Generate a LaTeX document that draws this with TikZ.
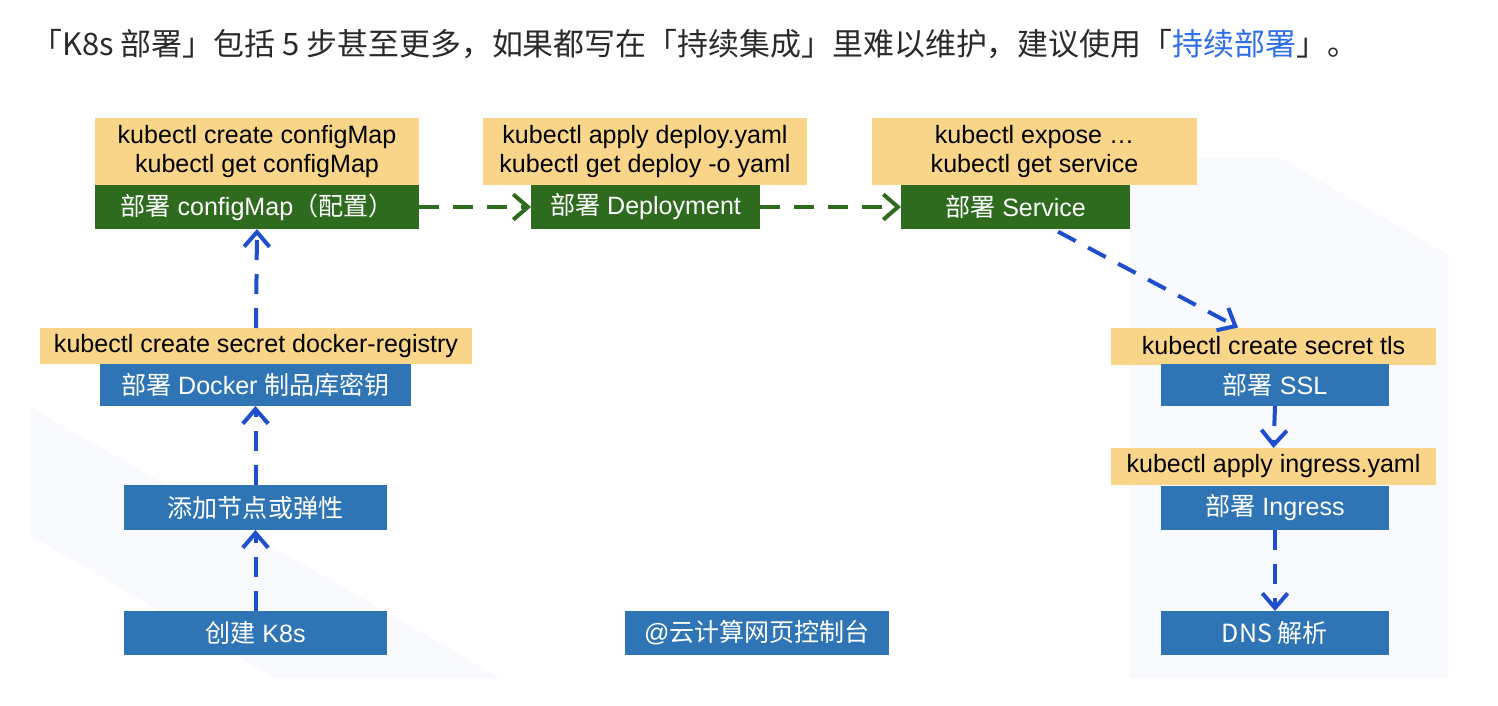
\documentclass[tikz,border=0pt]{standalone}
\usepackage{fontspec}
\setmainfont{Liberation Sans}
\newfontfamily\cjk{Noto Sans CJK SC}
\usetikzlibrary{arrows.meta}
\definecolor{ylw}{HTML}{F8D588}
\definecolor{grn}{HTML}{2E6B1E}
\definecolor{blu}{HTML}{2F75B5}
\definecolor{arrb}{HTML}{1F4FCF}
\definecolor{ttl}{HTML}{2A2A2A}
\definecolor{lnk}{HTML}{2F6FE8}
\definecolor{bgf}{HTML}{F8FAFE}
\begin{document}
\begin{tikzpicture}[x=0.75pt,y=-0.75pt,
  bw/.style={minimum width=#1*0.75pt},
  bh/.style={minimum height=#1*0.75pt},
  base/.style={rectangle,inner sep=0pt,outer sep=0pt,align=center,font=\fontsize{18.8}{21.75}\selectfont},
  ybox/.style={base,fill=ylw,text=black},
  gbox/.style={base,fill=grn,text=white},
  bbox/.style={base,fill=blu,text=white},
  conn/.style={line width=3pt,dash pattern=on 15pt off 10.5pt,
     -{Straight Barb[length=11pt,width=19pt,line width=3pt]}},
  gconn/.style={conn,draw=grn},
  bconn/.style={conn,draw=arrb}]
\useasboundingbox (0,0) rectangle (1498,706);
\fill[white] (0,0) rectangle (1498,706);
% faint background shapes
\fill[bgf] (30,407) -- (500,678) -- (275,678) -- (30,535) -- cycle;
\fill[bgf] (1130,158) -- (1280,158) -- (1448,255) -- (1448,678) -- (1130,678) -- cycle;
% title
\node[anchor=base west,inner sep=0pt,text=ttl,font=\cjk\fontsize{23.2}{27}\selectfont] (title) at (31,56)
  {「K8s 部署」包括 5 步甚至更多，如果都写在「持续集成」里难以维护，建议使用「\textcolor{lnk}{持续部署}」。};
% top row
\node[ybox,bw=324,bh=67] (y1) at (257,151.5) {kubectl create configMap\\kubectl get configMap};
\node[gbox,bw=324,bh=44] (g1) at (257,207) {{\cjk 部署} configMap{\cjk （配置）}};
\node[ybox,bw=324,bh=67] (y2) at (645,151.5) {kubectl apply deploy.yaml\\kubectl get deploy -o yaml};
\node[gbox,bw=229,bh=44] (g2) at (645.5,207) {{\cjk 部署} Deployment};
\node[ybox,bw=325,bh=67] (y3) at (1034.5,151.5) {kubectl expose …\\kubectl get service};
\node[gbox,bw=229,bh=44] (g3) at (1015.5,207) {{\cjk 部署} Service};
% left column
\node[ybox,bw=432,bh=36] (y4) at (256,346) {kubectl create secret docker-registry};
\node[bbox,bw=311,bh=42] (b4) at (255.5,385) {{\cjk 部署} Docker {\cjk 制品库密钥}};
\node[bbox,bw=263,bh=45] (b5) at (255.5,507.5) {\cjk 添加节点或弹性};
\node[bbox,bw=263,bh=44] (b6) at (255.5,633) {{\cjk 创建} K8s};
% middle
\node[bbox,bw=264,bh=44] (b7) at (757,633) {@{\cjk 云计算网页控制台}};
% right column
\node[ybox,bw=325,bh=37] (y8) at (1273.5,346) {kubectl create secret tls};
\node[bbox,bw=228,bh=42] (b8) at (1275,385) {{\cjk 部署} SSL};
\node[ybox,bw=325,bh=37] (y9) at (1273.5,466.5) {kubectl apply ingress.yaml};
\node[bbox,bw=228,bh=44] (b9) at (1275,508) {{\cjk 部署} Ingress};
\node[bbox,bw=228,bh=44] (b10) at (1275,633) {{\cjk DNS 解析}};
% connectors
\draw[gconn] (g1.east) -- (g2.west);
\draw[gconn] (g2.east) -- (g3.west);
\draw[bconn] ([xshift=31.9pt,yshift=-2pt]g3.south) -- ([xshift=-26.6pt]y8.north);
\draw[bconn] (b8.south) -- (y9.north);
\draw[bconn] (b9.south) -- (b10.north);
\draw[bconn] (y4.north) -- (g1.south);
\draw[bconn] (b5.north) -- (b4.south);
\draw[bconn] (b6.north) -- (b5.south);
\end{tikzpicture}
\end{document}
